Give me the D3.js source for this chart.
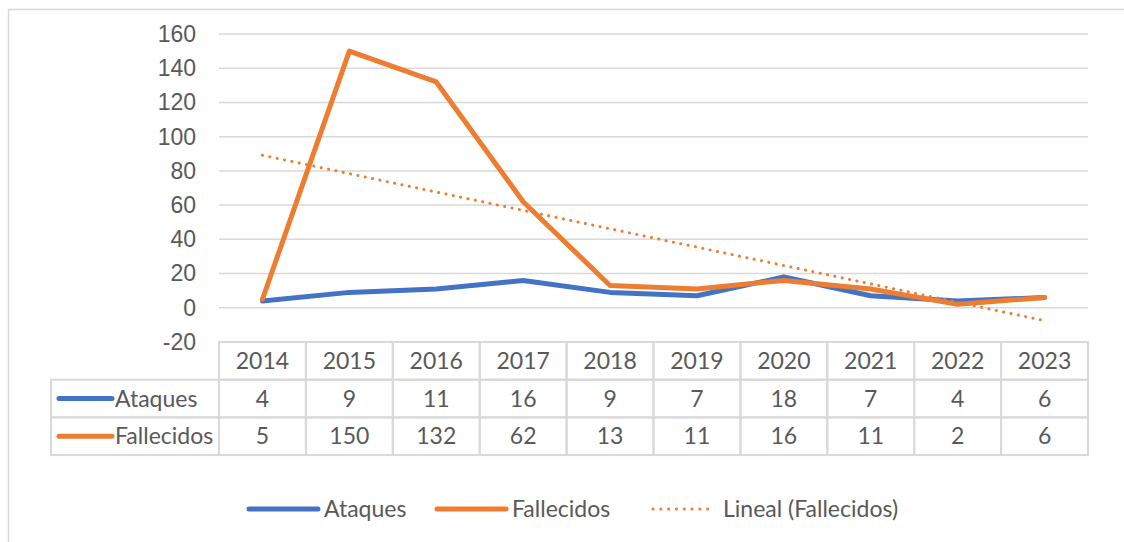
<!DOCTYPE html>
<html>
<head>
<meta charset="utf-8">
<script src="https://cdn.jsdelivr.net/npm/d3@7"></script>
<style>
  html, body { margin: 0; padding: 0; background: #fff; }
  svg { display: block; font-family: Lato, "Open Sans", sans-serif; }
</style>
</head>
<body>
<svg id="chart" width="1124" height="542"></svg>
<script>
// Data
const years = ["2014", "2015", "2016", "2017", "2018", "2019", "2020", "2021", "2022", "2023"];
const ataques = [4, 9, 11, 16, 9, 7, 18, 7, 4, 6];
const fallecidos = [5, 150, 132, 62, 13, 11, 16, 11, 2, 6];
const yTicks = [-20, 0, 20, 40, 60, 80, 100, 120, 140, 160];

const series = [
  { name: "Ataques", values: ataques, color: "#4472C4" },
  { name: "Fallecidos", values: fallecidos, color: "#ED7D31" }
];

const textColor = "#595959";
const gridColor = "#D9D9D9";
const fontSize = "23px";

const svg = d3.select("#chart");

// outer chart frame (top and left edges visible)
svg.append("path")
  .attr("d", "M8.5,542 V9.5 H1124")
  .attr("fill", "none")
  .attr("stroke", gridColor)
  .attr("stroke-width", 1.5);

const plot = { left: 219, right: 1088, top: 34, bottom: 342 };

const x = d3.scaleBand()
  .domain(years)
  .range([plot.left, plot.right]);

const y = d3.scaleLinear()
  .domain([-20, 160])
  .range([plot.bottom, plot.top]);

// gridlines
svg.append("g")
  .selectAll("line")
  .data(yTicks.filter(d => d > -20))
  .join("line")
  .attr("x1", plot.left)
  .attr("x2", plot.right)
  .attr("y1", d => y(d))
  .attr("y2", d => y(d))
  .attr("stroke", gridColor)
  .attr("stroke-width", 1.5);

// y axis labels
const yAxis = svg.append("g")
  .attr("transform", `translate(${plot.left - 23},0)`)
  .call(d3.axisLeft(y).tickValues(yTicks).tickSize(0).tickPadding(0).tickFormat(d => d < 0 ? "-" + Math.abs(d) : d));
yAxis.select(".domain").remove();
yAxis.selectAll("text")
  .attr("fill", textColor)
  .style("font-size", fontSize)
  .style("font-family", "inherit");

// linear trendline for Fallecidos (least squares, like Excel)
const xs = fallecidos.map((_, i) => i + 1);
const mx = d3.mean(xs), my = d3.mean(fallecidos);
const slope = d3.sum(xs, (v, i) => (v - mx) * (fallecidos[i] - my)) / d3.sum(xs, v => (v - mx) ** 2);
const intercept = my - slope * mx;
const trend = [1, xs.length].map(v => ({ year: years[v - 1], value: intercept + slope * v }));

const cx = d => x(d) + x.bandwidth() / 2;

const line = d3.line()
  .x(d => cx(d.year))
  .y(d => y(d.value));

series.forEach(s => {
  svg.append("path")
    .datum(s.values.map((v, i) => ({ year: years[i], value: v })))
    .attr("fill", "none")
    .attr("stroke", s.color)
    .attr("stroke-width", 5)
    .attr("stroke-linejoin", "round")
    .attr("stroke-linecap", "round")
    .attr("d", line);
});

svg.append("path")
  .datum(trend)
  .attr("fill", "none")
  .attr("stroke", "#ED7D31")
  .attr("stroke-width", 3)
  .attr("stroke-linecap", "round")
  .attr("stroke-dasharray", "0.1 7.4")
  .attr("d", line);

// data table
const rowH = 37.7;
const tableLeft = 51;
const table = svg.append("g");
const border = sel => sel.attr("fill", "none").attr("stroke", gridColor).attr("stroke-width", 2);

// header row
years.forEach(yr => {
  table.append("rect").attr("x", x(yr)).attr("y", plot.bottom)
    .attr("width", x.bandwidth()).attr("height", rowH).call(border);
  table.append("text")
    .attr("x", cx(yr)).attr("y", plot.bottom + rowH / 2 + 8)
    .attr("text-anchor", "middle").attr("fill", textColor)
    .style("font-size", fontSize).text(yr);
});

series.forEach((s, r) => {
  const top = plot.bottom + rowH * (r + 1);
  table.append("rect").attr("x", tableLeft).attr("y", top)
    .attr("width", plot.left - tableLeft).attr("height", rowH).call(border);
  table.append("line")
    .attr("x1", tableLeft + 8).attr("x2", tableLeft + 61)
    .attr("y1", top + rowH / 2).attr("y2", top + rowH / 2)
    .attr("stroke", s.color).attr("stroke-width", 5).attr("stroke-linecap", "round");
  table.append("text")
    .attr("x", tableLeft + 64).attr("y", top + rowH / 2 + 8)
    .attr("fill", textColor).style("font-size", fontSize).text(s.name);
  s.values.forEach((v, i) => {
    table.append("rect").attr("x", x(years[i])).attr("y", top)
      .attr("width", x.bandwidth()).attr("height", rowH).call(border);
    table.append("text")
      .attr("x", cx(years[i])).attr("y", top + rowH / 2 + 8)
      .attr("text-anchor", "middle").attr("fill", textColor)
      .style("font-size", fontSize).text(v);
  });
});

// legend
const legendItems = [
  { name: "Ataques", color: "#4472C4", x: 249, dotted: false },
  { name: "Fallecidos", color: "#ED7D31", x: 437, dotted: false },
  { name: "Lineal (Fallecidos)", color: "#ED7D31", x: 653, dotted: true }
];
const legendY = 509;
const legend = svg.append("g");
legendItems.forEach(it => {
  legend.append("line")
    .attr("x1", it.x).attr("x2", it.x + (it.dotted ? 62 : 69))
    .attr("y1", legendY).attr("y2", legendY)
    .attr("stroke", it.color)
    .attr("stroke-width", it.dotted ? 3 : 5)
    .attr("stroke-linecap", "round")
    .attr("stroke-dasharray", it.dotted ? "0.1 7.7" : null);
  legend.append("text")
    .attr("x", it.x + (it.dotted ? 70 : 75)).attr("y", legendY + 8)
    .attr("fill", textColor).style("font-size", fontSize).text(it.name);
});
</script>
</body>
</html>
